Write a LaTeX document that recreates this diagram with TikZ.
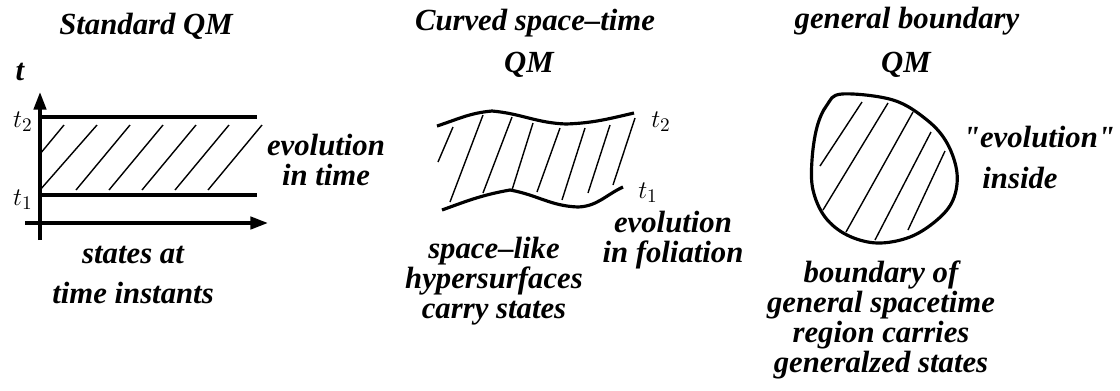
\documentclass[tikz,border=0pt]{standalone}
\usepackage{fontspec}
\setmainfont{Liberation Serif}
\newfontfamily\plainserif{Liberation Serif}
\usetikzlibrary{arrows.meta}
\usetikzlibrary{positioning}

\newcommand{\qmark}{{\plainserif\bfseries\itshape "}}

\tikzset{
  lbl/.style={font=\fontsize{17.5pt}{17pt}\selectfont\bfseries\itshape, inner sep=0pt, align=center},
  tlbl/.style={font=\fontsize{15pt}{18pt}\selectfont, inner sep=0pt},
  bnd/.style={line width=1.8pt},
  hatch/.style={line width=0.8pt},
  axis/.style={line width=2pt, -{Triangle[length=10pt,width=7pt]}},
}

\begin{document}
\begin{tikzpicture}[x=0.02cm, y=-0.02cm]
  \useasboundingbox (0,0) rectangle (1120,390);

  % standard QM
  \node[lbl, anchor=base] (st) at (146,34) {Standard QM};
  \node[lbl, anchor=base] (tt) at (20,80) {t};

  \coordinate (ya) at (40,240);
  \coordinate (yb) at (40,92);
  \coordinate (xa) at (25,223);
  \coordinate (xb) at (268,223);
  \draw[axis] (ya) -- (yb);
  \draw[axis] (xa) -- (xb);

  \coordinate (a2) at (40,117);
  \coordinate (b2) at (257,117);
  \coordinate (a1) at (40,195);
  \coordinate (b1) at (257,195);
  \draw[bnd] (a2) -- (b2) (a1) -- (b1);
  \draw[hatch] (40,154) -- (64,125) (40,190) -- (97,125) (76,190) -- (130,125)
    (109,190) -- (163,125) (142,190) -- (196,125) (175,190) -- (229,125)
    (208,190) -- (262,125);

  \node[tlbl, left=0.14cm of a2, yshift=-0.1cm] (lt2) {$t_2$};
  \node[tlbl, left=0.14cm of a1, yshift=-0.1cm] (lt1) {$t_1$};

  \node[lbl] (evo) at (326,160) {evolution\\in time};
  \node[lbl] (sta) at (133,275) {states at\\[5.7pt]time instants};

  % curved space-time QM
  \node[lbl, anchor=base] (ct) at (535,30) {Curved space--time};
  \node[lbl, anchor=base] (cq) at (529,72) {QM};

  \coordinate (c2) at (634,113);
  \coordinate (c1) at (623,187);
  \draw[bnd] (437,126) to[out=18,in=185] (492,111) to[out=-5,in=178] (566,124)
    to[out=2,in=193] (c2);
  \draw[bnd] (442,210) to[out=20,in=190] (510,190) to[out=-10,in=178] (578,207)
    to[out=2,in=205] (c1);
  \draw[hatch] (438,162) -- (453,127) (450,202) -- (483,115) (483,193) -- (512,117)
    (512,190) -- (533,123) (537,192) -- (560,128) (562,200) -- (585,128)
    (588,193) -- (610,125) (613,185) -- (635,118);

  \node[tlbl] (ct2) at (661,122) {$t_2$};
  \node[tlbl] (ct1) at (648,193) {$t_1$};

  \node[lbl] (fol) at (673,240) {evolution\\in foliation};
  \node[lbl] (hyp) at (494,281) {space--like\\hypersurfaces\\carry states};

  % general boundary QM
  \node[lbl, anchor=base] (gb) at (907,28) {general boundary};
  \node[lbl, anchor=base] (gq) at (906,72) {QM};

  \draw[bnd] plot[smooth cycle, tension=0.6] coordinates {(842,94) (893,100) (927,120)
    (947,143) (957,173) (953,200) (937,220) (910,237) (877,243) (847,235)
    (825,217) (813,190) (812,160) (817,127) (827,105)};
  \draw[hatch] (820,166) -- (862,102) (823,210) -- (888,103) (846,232) -- (913,112)
    (875,240) -- (931,132) (908,230) -- (945,151);

  \node[lbl, anchor=base] (gev) at (1039,147) {\qmark evolution\qmark};
  \node[lbl, anchor=base] (gin) at (1020,188) {inside};
  \node[lbl] (reg) at (881,320) {boundary of\\general spacetime\\region carries\\generalzed states};
\end{tikzpicture}
\end{document}
